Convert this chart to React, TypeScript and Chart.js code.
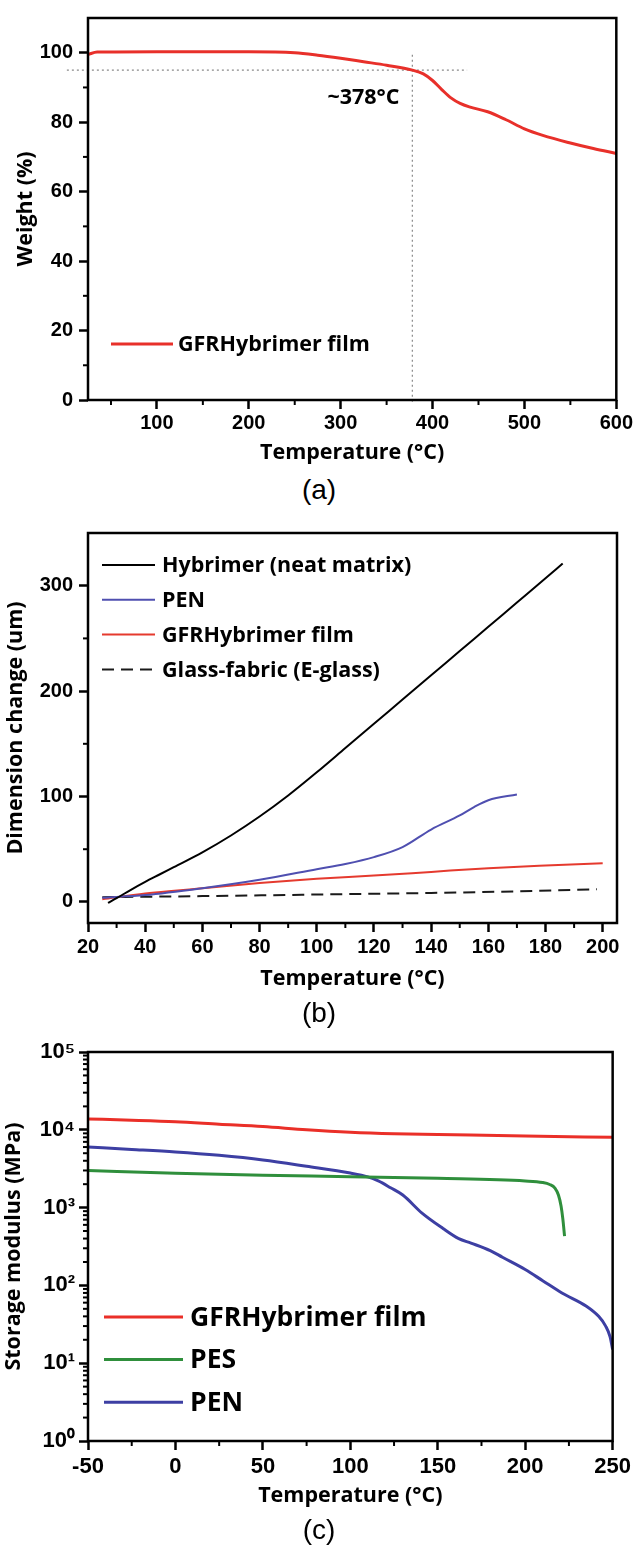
import React, { useEffect, useRef } from "react";
import { Chart, registerables } from "chart.js";

Chart.register(...registerables);

// ---------------- Panel (a): TGA ----------------
const tgaTemp = [25, 35, 100, 200, 250, 275, 300, 325, 350, 378, 390, 400, 410, 420, 430, 440, 460, 480, 500, 520, 550, 575, 600];
const tgaWeight = [99.5, 100.2, 100.3, 100.3, 100, 99.3, 98.4, 97.4, 96.4, 95, 93.9, 92, 89.4, 87, 85.4, 84.4, 83, 80.7, 78.1, 76.2, 74, 72.4, 71];
const tgaLabel = "GFRHybrimer film";
const onsetTemp = 378;
const onsetWeight = 95;
const onsetGuideX = [2, 437.6];
const onsetGuideY = [99.4, -1.4];
const onsetText = "~378°C";
const onsetTextPos = [364, 87];
const aXTicks = [100, 200, 300, 400, 500, 600];
const aXMinor = [50, 150, 250, 350, 450, 550];
const aYTicks = [0, 20, 40, 60, 80, 100];
const aYMinor = [10, 30, 50, 70, 90];

// ---------------- Panel (b): TMA ----------------
const hybTemp = [27, 30, 35, 40, 45, 50, 60, 70, 80, 90, 100, 110, 120, 130, 140, 150, 160, 170, 180, 186];
const hybDim = [-1, 3.5, 11.5, 19, 26, 33, 47, 63, 81, 101, 123, 146, 169, 192, 215, 238, 261, 284, 307, 321];
const penTemp = [25, 40, 60, 80, 100, 110, 120, 130, 140, 150, 155, 160, 170];
const penDim = [4, 6.5, 13, 21, 31, 36, 42.5, 52, 68.7, 82, 90, 96.5, 102];
const gfrTemp = [25, 40, 60, 80, 100, 120, 140, 160, 180, 200];
const gfrDim = [2.6, 8, 13, 18, 22, 25, 28.5, 32, 34.5, 36.6];
const glassTemp = [25, 60, 100, 140, 170, 198];
const glassDim = [4.5, 5.5, 7, 8.5, 10, 12];
const bLabels = ["Hybrimer (neat matrix)", "PEN", "GFRHybrimer film", "Glass-fabric (E-glass)"];
const bXTicks = [20, 40, 60, 80, 100, 120, 140, 160, 180, 200];
const bXMinor = [30, 50, 70, 90, 110, 130, 150, 170, 190];
const bYTicks = [0, 100, 200, 300];
const bYMinor = [50, 150, 250];

// ---------------- Panel (c): DMA ----------------
const cGfrTemp = [-50, -25, 0, 25, 50, 75, 100, 125, 150, 200, 250];
const cGfrMod = [13800, 13300, 12700, 11800, 11000, 10000, 9300, 8900, 8700, 8300, 8000];
const cPesTemp = [-50, 0, 50, 100, 150, 200, 210, 214, 217, 219, 220.5, 221.5, 222.5];
const cPesMod = [3000, 2760, 2600, 2500, 2380, 2200, 2100, 1980, 1780, 1450, 1050, 720, 430];
const cPenTemp = [-50, -25, 0, 25, 50, 75, 100, 110, 116, 123, 130, 141, 153, 162, 169, 180, 187, 200, 210, 221, 235, 242, 246, 248.5, 250];
const cPenMod = [6000, 5600, 5200, 4700, 4100, 3400, 2780, 2480, 2200, 1800, 1450, 850, 540, 400, 350, 280, 230, 160, 115, 80, 54, 40, 30, 22, 15];
const cLabels = ["GFRHybrimer film", "PES", "PEN"];
const cXTicks = [-50, 0, 50, 100, 150, 200, 250];
const cXMinor = [-25, 25, 75, 125, 175, 225];
const cYTicks = [1, 10, 100, 1000, 10000, 100000];
const cYTickLabels = ["10⁰", "10¹", "10²", "10³", "10⁴", "10⁵"];
const cYMinor = [1, 10, 100, 1000, 10000].flatMap((d) => [2, 3, 4, 5, 6, 7, 8, 9].map((m) => m * d));

const xTitle = "Temperature (°C)";

// ---------------- helpers ----------------
const pts = (xs: number[], ys: number[]) => xs.map((x, i) => ({ x, y: ys[i] }));
const TICK_FAMILY = "'Liberation Sans', Arial, sans-serif";
const TEXT_FAMILY = "'Open Sans', Lato, sans-serif";
const TITLE_SIZE = 21.5;
const tickFont = (size: number) => ({ family: TICK_FAMILY, size, weight: "bold" as const });
const textFont = (size: number) => ({ family: TEXT_FAMILY, size, weight: "bold" as const });

const gridCfg = {
  display: true,
  drawOnChartArea: false,
  drawTicks: true,
  tickLength: 9,
  tickWidth: 2.5,
  tickColor: "#000",
};

function xScale(o: any) {
  return {
    type: "linear",
    min: o.min,
    max: o.max,
    afterBuildTicks: (s: any) => {
      s.ticks = o.ticks.map((v: number) => ({ value: v }));
    },
    afterFit: (s: any) => {
      s.height = o.height;
    },
    ticks: {
      font: tickFont(o.fontSize),
      color: "#000",
      padding: o.pad,
      maxRotation: 0,
      autoSkip: false,
      callback: (v: any) => String(v),
    },
    grid: gridCfg,
    border: { display: false },
    title: {
      display: true,
      text: xTitle,
      color: "#000",
      font: textFont(TITLE_SIZE),
      padding: { top: 0, bottom: o.titlePad },
    },
  };
}

function yScale(o: any) {
  return {
    type: o.type || "linear",
    min: o.min,
    max: o.max,
    afterBuildTicks: (s: any) => {
      s.ticks = o.ticks.map((v: number) => ({ value: v }));
    },
    afterFit: (s: any) => {
      s.width = 88;
    },
    ticks: {
      font: tickFont(o.fontSize),
      color: "#000",
      padding: o.pad,
      autoSkip: false,
      callback: (v: any, i: number) => (o.labels ? o.labels[i] : String(v)),
    },
    grid: gridCfg,
    border: { display: false },
    title: {
      display: true,
      text: o.title,
      color: "#000",
      font: textFont(TITLE_SIZE),
      padding: { top: o.titlePad, bottom: 0 },
    },
  };
}

function framePlugin(minorX: number[], minorY: number[], minorLen: number) {
  return {
    id: "frame",
    afterDraw(chart: any) {
      const { ctx, chartArea: ca, scales } = chart;
      ctx.save();
      ctx.strokeStyle = "#000";
      ctx.lineWidth = 2.5;
      ctx.strokeRect(ca.left, ca.top, ca.right - ca.left, ca.bottom - ca.top);
      ctx.lineWidth = 2;
      minorX.forEach((v) => {
        const p = scales.x.getPixelForValue(v);
        ctx.beginPath();
        ctx.moveTo(p, ca.bottom);
        ctx.lineTo(p, ca.bottom + minorLen);
        ctx.stroke();
      });
      minorY.forEach((v) => {
        const p = scales.y.getPixelForValue(v);
        ctx.beginPath();
        ctx.moveTo(ca.left, p);
        ctx.lineTo(ca.left - minorLen, p);
        ctx.stroke();
      });
      ctx.restore();
    },
  };
}

function legendPlugin(o: { x: number; y: number; rowGap: number; lineLen: number; textGap: number; fontSize: number; count: number }) {
  return {
    id: "inlineLegend",
    afterDatasetsDraw(chart: any) {
      const { ctx, chartArea: ca } = chart;
      ctx.save();
      ctx.font = `bold ${o.fontSize}px ${TEXT_FAMILY}`;
      ctx.textBaseline = "middle";
      ctx.textAlign = "left";
      chart.data.datasets.slice(0, o.count).forEach((ds: any, i: number) => {
        const y = ca.top + o.y + i * o.rowGap;
        const x0 = ca.left + o.x;
        ctx.strokeStyle = ds.borderColor;
        ctx.lineWidth = ds.borderWidth;
        ctx.setLineDash(ds.borderDash || []);
        ctx.beginPath();
        ctx.moveTo(x0, y);
        ctx.lineTo(x0 + o.lineLen, y);
        ctx.stroke();
        ctx.setLineDash([]);
        ctx.fillStyle = "#000";
        ctx.fillText(ds.label, x0 + o.lineLen + o.textGap, y + 1);
      });
      ctx.restore();
    },
  };
}

function notePlugin(text: string, xv: number, yv: number, size: number) {
  return {
    id: "note",
    afterDatasetsDraw(chart: any) {
      const { ctx, scales } = chart;
      ctx.save();
      ctx.font = `bold ${size}px ${TEXT_FAMILY}`;
      ctx.fillStyle = "#000";
      ctx.textAlign = "right";
      ctx.textBaseline = "middle";
      ctx.fillText(text, scales.x.getPixelForValue(xv), scales.y.getPixelForValue(yv));
      ctx.restore();
    },
  };
}

const lineDs = (label: string, data: any[], color: string, width: number, extra: any = {}) => ({
  label,
  data,
  borderColor: color,
  backgroundColor: color,
  borderWidth: width,
  pointRadius: 0,
  fill: false,
  cubicInterpolationMode: "monotone",
  ...extra,
});

// ---------------- chart configs ----------------
function makeA(): any {
  return {
    type: "line",
    data: {
      datasets: [
        lineDs(tgaLabel, pts(tgaTemp, tgaWeight), "#e8302a", 3),
        lineDs("", pts(onsetGuideX, [onsetWeight, onsetWeight]), "#8a8a8a", 1.2, { borderDash: [2, 3], clip: false, cubicInterpolationMode: "default", tension: 0 }),
        lineDs("", pts([onsetTemp, onsetTemp], onsetGuideY), "#8a8a8a", 1.2, { borderDash: [2, 3], clip: false, cubicInterpolationMode: "default", tension: 0 }),
      ],
    },
    options: {
      animation: false,
      responsive: false,
      layout: { padding: { top: 11, right: 18, left: 0, bottom: 0 } },
      plugins: { legend: { display: false }, tooltip: { enabled: false } },
      scales: {
        x: xScale({ min: 25, max: 600, ticks: aXTicks, height: 70, fontSize: 20, pad: 2, titlePad: 4 }),
        y: yScale({ min: 0, max: 110, ticks: aYTicks, fontSize: 20, pad: 6, title: "Weight (%)", titlePad: 13 }),
      },
    },
    plugins: [
      framePlugin(aXMinor, aYMinor, 5),
      legendPlugin({ x: 23, y: 326, rowGap: 0, lineLen: 62, textGap: 5, fontSize: 21.5, count: 1 }),
      notePlugin(onsetText, onsetTextPos[0], onsetTextPos[1], 21.5),
    ],
  };
}

function makeB(): any {
  return {
    type: "line",
    data: {
      datasets: [
        lineDs(bLabels[0], pts(hybTemp, hybDim), "#000000", 2),
        lineDs(bLabels[1], pts(penTemp, penDim), "#4f4fb0", 2),
        lineDs(bLabels[2], pts(gfrTemp, gfrDim), "#e53a2e", 2),
        lineDs(bLabels[3], pts(glassTemp, glassDim), "#1a1a1a", 2, { borderDash: [12, 7] }),
      ],
    },
    options: {
      animation: false,
      responsive: false,
      layout: { padding: { top: 33, right: 18, left: 0, bottom: 0 } },
      plugins: { legend: { display: false }, tooltip: { enabled: false } },
      scales: {
        x: xScale({ min: 20, max: 205, ticks: bXTicks, height: 77, fontSize: 20, pad: 3, titlePad: 8 }),
        y: yScale({ min: -20, max: 350, ticks: bYTicks, fontSize: 20, pad: 6, title: "Dimension change (um)", titlePad: 3 }),
      },
    },
    plugins: [
      framePlugin(bXMinor, bYMinor, 5),
      legendPlugin({ x: 14, y: 32, rowGap: 34.8, lineLen: 53, textGap: 7, fontSize: 21.5, count: 4 }),
    ],
  };
}

function makeC(): any {
  return {
    type: "line",
    data: {
      datasets: [
        lineDs(cLabels[0], pts(cGfrTemp, cGfrMod), "#ea2f28", 3),
        lineDs(cLabels[1], pts(cPesTemp, cPesMod), "#2f8f3c", 3),
        lineDs(cLabels[2], pts(cPenTemp, cPenMod), "#3d3fa3", 3),
      ],
    },
    options: {
      animation: false,
      responsive: false,
      layout: { padding: { top: 22, right: 17.5, left: 0, bottom: 0 } },
      plugins: { legend: { display: false }, tooltip: { enabled: false } },
      scales: {
        x: xScale({ min: -50, max: 250, ticks: cXTicks, height: 79, fontSize: 22, pad: 4, titlePad: 11 }),
        y: yScale({ type: "logarithmic", min: 1, max: 100000, ticks: cYTicks, labels: cYTickLabels, fontSize: 22, pad: 4, title: "Storage modulus (MPa)", titlePad: 1 }),
      },
    },
    plugins: [
      framePlugin(cXMinor, cYMinor, 5),
      legendPlugin({ x: 16, y: 265, rowGap: 42.6, lineLen: 79, textGap: 7, fontSize: 26.5, count: 3 }),
    ],
  };
}

// ---------------- components ----------------
function ChartPanel({ top, height, make }: { top: number; height: number; make: () => any }) {
  const ref = useRef<HTMLCanvasElement>(null);
  useEffect(() => {
    const chart = new Chart(ref.current as HTMLCanvasElement, make());
    return () => chart.destroy();
  }, [make]);
  return (
    <div style={{ position: "absolute", left: 0, top, width: 635, height }}>
      <canvas ref={ref} width={635} height={height} style={{ display: "block" }} />
    </div>
  );
}

function Caption({ center, text }: { center: number; text: string }) {
  return (
    <div
      style={{
        position: "absolute",
        left: 269,
        width: 100,
        top: center - 17,
        height: 34,
        lineHeight: "34px",
        fontSize: 28,
        fontFamily: TICK_FAMILY,
        textAlign: "center",
        color: "#000",
      }}
    >
      {text}
    </div>
  );
}

export default function App() {
  return (
    <div style={{ position: "absolute", left: 0, top: 0, width: 635, height: 1547, background: "#fff" }}>
      <ChartPanel top={0} height={470} make={makeA} />
      <Caption center={490} text="(a)" />
      <ChartPanel top={500} height={500} make={makeB} />
      <Caption center={1013} text="(b)" />
      <ChartPanel top={1030} height={490} make={makeC} />
      <Caption center={1530} text="(c)" />
    </div>
  );
}
